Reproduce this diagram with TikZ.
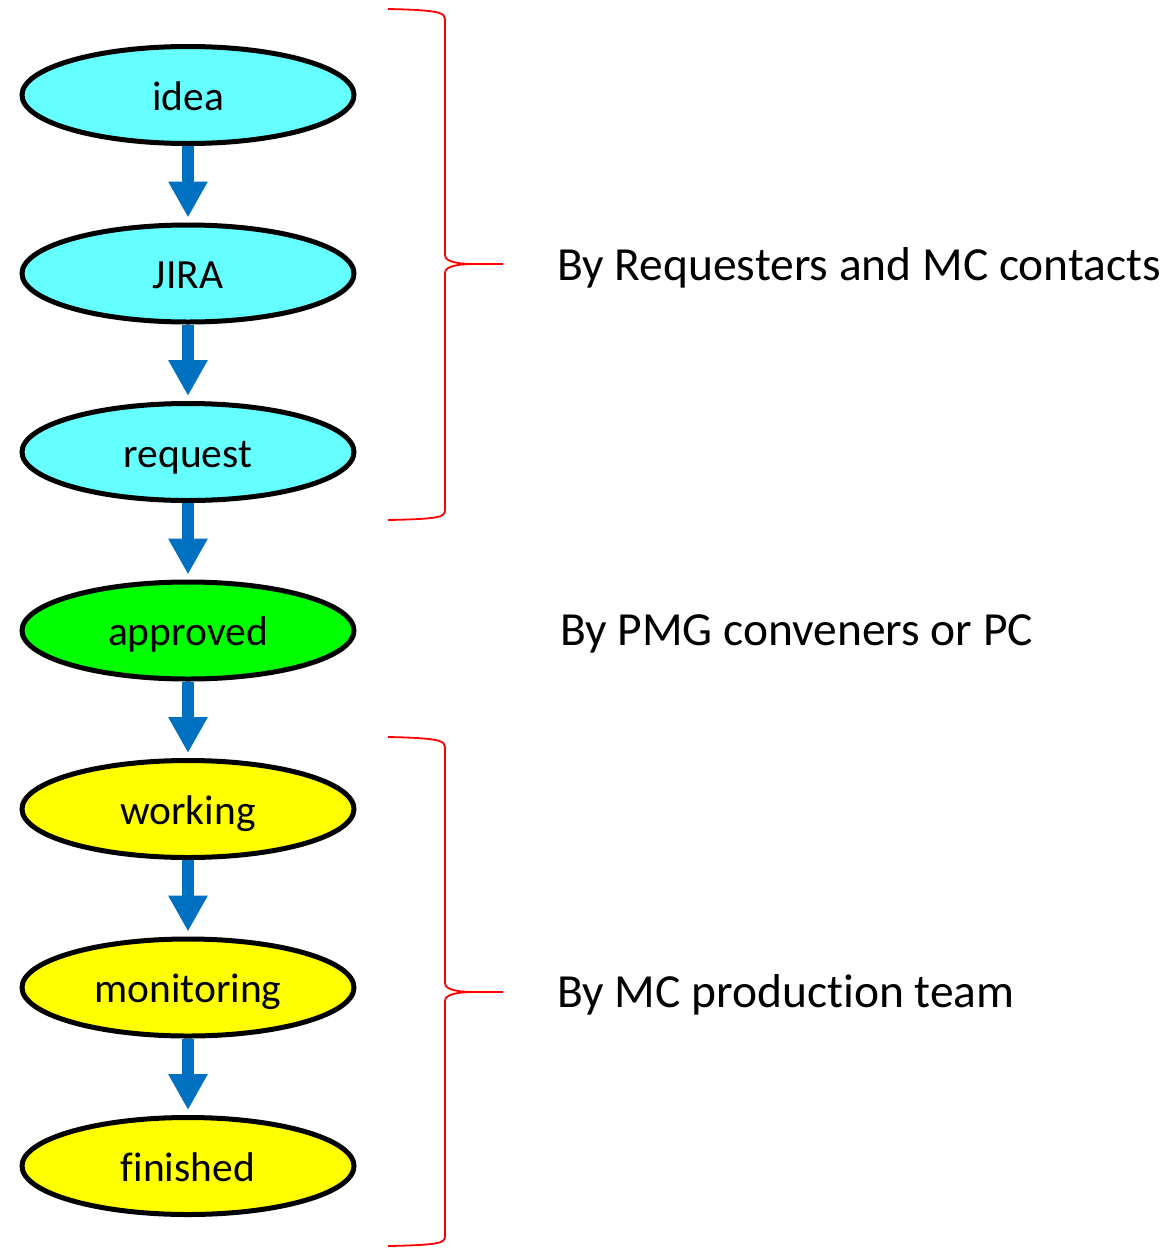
\documentclass[tikz,border=0pt]{standalone}
\usepackage{fontspec}
\setmainfont{Carlito}[Ligatures=NoCommon]
\usetikzlibrary{positioning}
\usetikzlibrary{arrows.meta}
\usetikzlibrary{shapes.geometric}

\definecolor{stagecyan}{RGB}{102,255,255}
\definecolor{stagegreen}{RGB}{0,255,0}
\definecolor{stageyellow}{RGB}{255,255,0}
\definecolor{flowblue}{RGB}{0,112,192}

\begin{document}
\begin{tikzpicture}[x=1pt,y=-1pt,
stage/.style={ellipse, draw=black, line width=5pt, minimum width=332pt, minimum height=97pt,
  inner sep=0pt, text height=30pt, text depth=0pt, font=\fontsize{41.5}{48}\selectfont},
flow/.style={draw=flowblue, line width=12pt, -{Triangle[length=36pt,width=37pt]}, shorten >=5pt},
bracket/.style={draw=red, line width=1.8pt},
remark/.style={anchor=base west, inner sep=0pt, font=\fontsize{47.5}{56}\selectfont},
node distance=76.5pt]
\useasboundingbox (0,0) rectangle (1169,1248);

% stages
\node[stage, fill=stagecyan] (idea) at (188,95) {idea};
\node[stage, fill=stagecyan, below=of idea] (jira) {JIRA};
\node[stage, fill=stagecyan, below=of jira] (request) {request};
\node[stage, fill=stagegreen, below=of request] (approved) {approved};
\node[stage, fill=stageyellow, below=of approved] (working) {working};
\node[stage, fill=stageyellow, below=of working] (monitoring) {monitoring};
\node[stage, fill=stageyellow, below=of monitoring] (finished) {finished};

\foreach \a/\b in {idea/jira, jira/request, request/approved, approved/working,
  working/monitoring, monitoring/finished}
  \draw[flow] (\a.south) -- (\b.north);

% braces
\draw[bracket] (388,9) .. controls (440,10) and (445,13) .. (445,19) -- (445,255)
  .. controls (445,262) and (458,264) .. (475,264) -- (503,264)
  (475,264) .. controls (458,264) and (445,266) .. (445,273) -- (445,510)
  .. controls (445,517) and (440,519) .. (388,520);
\draw[bracket] (388,737) .. controls (440,738) and (445,741) .. (445,747) -- (445,983)
  .. controls (445,990) and (458,992) .. (475,992) -- (503,992)
  (475,992) .. controls (458,992) and (445,994) .. (445,1001) -- (445,1236)
  .. controls (445,1243) and (440,1245) .. (388,1246);

% who does it
\node[remark] (requesters) at (557,280) {By Requesters and MC contacts};
\node[remark] (conveners) at (560,645) {By PMG conveners or PC};
\node[remark] (team) at (557,1007) {By MC production team};
\end{tikzpicture}
\end{document}
